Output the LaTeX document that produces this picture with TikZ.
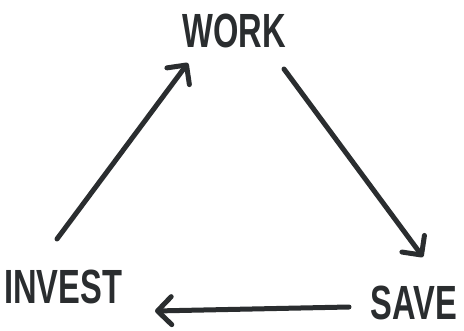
\documentclass[tikz,border=0pt]{standalone}
\usepackage{fontspec}
\setmainfont{Liberation Sans}
\usetikzlibrary{arrows.meta}
\definecolor{ink}{HTML}{2A2D2F}
\tikzset{
  label text/.style={text=ink, font=\fontsize{48}{48}\selectfont\bfseries, xscale=0.68, inner sep=0pt, anchor=center},
  cycle arrow/.style={draw=ink, line width=5pt, line cap=round, line join=round,
    -{Straight Barb[length=14pt, width=28pt, line width=5pt, line cap=round, line join=round]}}
}
\begin{document}
\begin{tikzpicture}[x=1pt, y=-1pt]
  \useasboundingbox[fill=white] (0,0) rectangle (464,330);
  \node[label text] (work) at (234,31) {WORK};
  \node[label text] (invest) at (63,287) {INVEST};
  \node[label text] (save) at (414,303) {SAVE};
  \coordinate (iw-start) at (57,239);
  \coordinate (iw-end) at (188,63);
  \coordinate (ws-start) at (284,69);
  \coordinate (ws-end) at (423,257);
  \coordinate (si-start) at (349,307);
  \coordinate (si-end) at (155,311);
  \draw[cycle arrow] (iw-start) -- (iw-end);
  \draw[cycle arrow] (ws-start) -- (ws-end);
  \draw[cycle arrow] (si-start) -- (si-end);
\end{tikzpicture}
\end{document}
